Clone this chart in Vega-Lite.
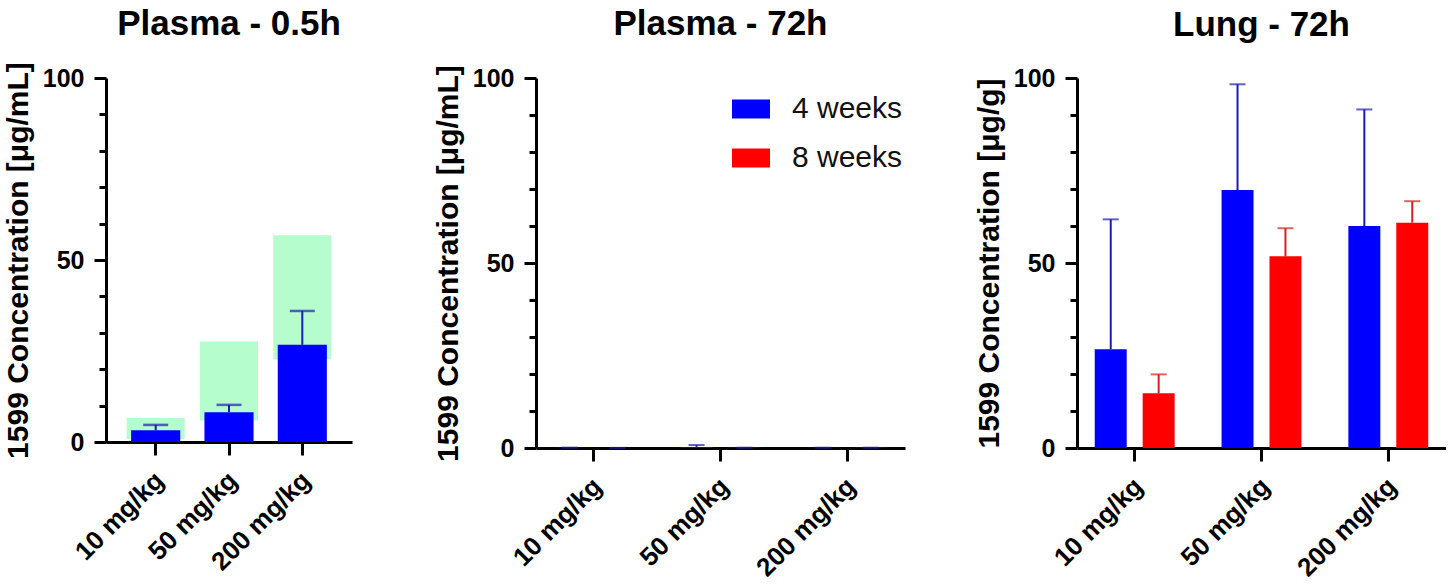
{
  "$schema": "https://vega.github.io/schema/vega-lite/v6.json",
  "background": "white",
  "padding": {"left": 3, "top": 6, "right": 0, "bottom": 0},
  "datasets": {
    "p1": [
      {"dose": "10 mg/kg", "mean": 3.2, "upper": 4.7, "lo": 0.8, "hi": 6.6},
      {"dose": "50 mg/kg", "mean": 8.2, "upper": 10.2, "lo": 5.9, "hi": 27.6},
      {"dose": "200 mg/kg", "mean": 26.7, "upper": 36.0, "lo": 22.7, "hi": 56.8}
    ],
    "p2": [
      {"dose": "10 mg/kg", "group": "4 weeks", "mean": 0.05, "upper": 0.1},
      {"dose": "10 mg/kg", "group": "8 weeks", "mean": 0.02, "upper": 0.03},
      {"dose": "50 mg/kg", "group": "4 weeks", "mean": 0.3, "upper": 0.8},
      {"dose": "50 mg/kg", "group": "8 weeks", "mean": 0.05, "upper": 0.08},
      {"dose": "200 mg/kg", "group": "4 weeks", "mean": 0.05, "upper": 0.08},
      {"dose": "200 mg/kg", "group": "8 weeks", "mean": 0.05, "upper": 0.08}
    ],
    "p3": [
      {"dose": "10 mg/kg", "group": "4 weeks", "mean": 26.7, "upper": 61.8},
      {"dose": "10 mg/kg", "group": "8 weeks", "mean": 14.8, "upper": 19.9},
      {"dose": "50 mg/kg", "group": "4 weeks", "mean": 69.7, "upper": 98.3},
      {"dose": "50 mg/kg", "group": "8 weeks", "mean": 51.8, "upper": 59.4},
      {"dose": "200 mg/kg", "group": "4 weeks", "mean": 60.0, "upper": 91.5},
      {"dose": "200 mg/kg", "group": "8 weeks", "mean": 60.9, "upper": 66.7}
    ]
  },
  "config": {
    "font": "Liberation Sans",
    "view": {"stroke": null},
    "axis": {
      "domainColor": "black",
      "domainWidth": 3,
      "tickColor": "black",
      "tickWidth": 3,
      "labelFont": "Liberation Sans",
      "labelFontWeight": "bold",
      "labelFontSize": 25,
      "labelColor": "black",
      "titleFont": "Liberation Sans",
      "titleFontSize": 30,
      "titleFontWeight": "bold",
      "titleColor": "black",
      "grid": false
    },
    "axisX": {
      "tickSize": 13,
      "labelAngle": -45,
      "labelAlign": "right",
      "labelBaseline": "middle",
      "labelPadding": 21,
      "labelOffset": 4,
      "labelFontSize": 26,
      "title": null
    },
    "axisY": {
      "titlePadding": 9,
      "labelPadding": 10,
      "labelOverlap": false,
      "tickCount": 20
    },
    "legend": {"padding": 0},
    "title": {
      "font": "Liberation Sans",
      "fontSize": 35,
      "fontWeight": "bold",
      "color": "black",
      "anchor": "middle",
      "offset": 23
    }
  },
  "hconcat": [
    {
      "title": {"text": "Plasma - 0.5h", "offset": 20},
      "width": 246,
      "height": 364,
      "data": {"name": "p1"},
      "encoding": {
        "x": {
          "field": "dose", "type": "nominal", "sort": null,
          "scale": {"paddingInner": 0.33, "paddingOuter": 0.343},
          "axis": {"title": null}
        }
      },
      "layer": [
        {
          "mark": {"type": "bar", "color": "#b5fdcc", "size": 58},
          "encoding": {
            "y": {
              "field": "lo", "type": "quantitative",
              "scale": {"domain": [0, 100], "nice": false},
              "axis": {
                "title": "1599 Concentration [μg/mL]",
                "values": [0, 10, 20, 30, 40, 50, 60, 70, 80, 90, 100],
                "labelExpr": "datum.value % 50 === 0 ? datum.label : ''",
                "tickSize": {"condition": {"test": "datum.value % 50 === 0", "value": 12}, "value": 7}
              }
            },
            "y2": {"field": "hi"}
          }
        },
        {
          "mark": {"type": "bar", "color": "#0000ff"},
          "encoding": {"y": {"field": "mean", "type": "quantitative"}}
        },
        {
          "mark": {"type": "rule", "color": "#1c1cb4", "strokeWidth": 2},
          "encoding": {"y": {"field": "mean", "type": "quantitative"}, "y2": {"field": "upper"}}
        },
        {
          "mark": {"type": "tick", "color": "#1c1cb4", "thickness": 2.5, "size": 25},
          "encoding": {"y": {"field": "upper", "type": "quantitative"}}
        }
      ]
    },
    {
      "spacing": 69,
      "hconcat": [
        {
          "title": "Plasma - 72h",
          "width": 369,
          "height": 370,
          "data": {"name": "p2"},
          "encoding": {
            "x": {
              "field": "dose", "type": "nominal", "sort": null,
              "scale": {"paddingInner": 0.37, "paddingOuter": 0.14},
              "axis": {"title": null}
            },
            "xOffset": {"field": "group", "type": "nominal", "scale": {"paddingInner": 0.333, "paddingOuter": 0}}
          },
          "layer": [
            {
              "mark": {"type": "bar"},
              "encoding": {
                "y": {
                  "field": "mean", "type": "quantitative",
                  "scale": {"domain": [0, 100], "nice": false},
                  "axis": {
                    "title": "1599 Concentration [μg/mL]",
                    "values": [0, 10, 20, 30, 40, 50, 60, 70, 80, 90, 100],
                    "labelExpr": "datum.value % 50 === 0 ? datum.label : ''",
                    "tickSize": {"condition": {"test": "datum.value % 50 === 0", "value": 12}, "value": 7}
                  }
                },
                "color": {
                  "field": "group", "type": "nominal",
                  "scale": {"domain": ["4 weeks", "8 weeks"], "range": ["#0000ff", "#ff0000"]},
                  "legend": {
                    "title": null,
                    "orient": "none",
                    "legendX": 196,
                    "legendY": 12,
                    "symbolType": "M-1,-0.5H1V0.5H-1Z",
                    "symbolSize": 1444,
                    "symbolStrokeWidth": 0,
                    "labelFont": "Liberation Sans",
                    "labelFontSize": 30,
                    "labelFontWeight": "normal",
                    "labelColor": "#111111",
                    "labelOffset": 22,
                    "rowPadding": 15
                  }
                }
              }
            },
            {
              "mark": {"type": "rule", "color": "#1c1cb4", "strokeWidth": 2},
              "encoding": {"y": {"field": "mean", "type": "quantitative"}, "y2": {"field": "upper"}}
            },
            {
              "mark": {"type": "tick", "color": "#1c1cb4", "thickness": 2, "size": 16},
              "encoding": {"y": {"field": "upper", "type": "quantitative"}}
            }
          ]
        },
        {
          "title": "Lung - 72h",
          "width": 369,
          "height": 370,
          "data": {"name": "p3"},
          "encoding": {
            "x": {
              "field": "dose", "type": "nominal", "sort": null,
              "scale": {"paddingInner": 0.37, "paddingOuter": 0.14},
              "axis": {"title": null}
            },
            "xOffset": {"field": "group", "type": "nominal", "scale": {"paddingInner": 0.333, "paddingOuter": 0}}
          },
          "layer": [
            {
              "mark": {"type": "bar"},
              "encoding": {
                "y": {
                  "field": "mean", "type": "quantitative",
                  "scale": {"domain": [0, 100], "nice": false},
                  "axis": {
                    "title": "1599 Concentration [μg/g]",
                    "values": [0, 10, 20, 30, 40, 50, 60, 70, 80, 90, 100],
                    "labelExpr": "datum.value % 50 === 0 ? datum.label : ''",
                    "tickSize": {"condition": {"test": "datum.value % 50 === 0", "value": 12}, "value": 7}
                  }
                },
                "color": {
                  "field": "group", "type": "nominal",
                  "scale": {"domain": ["4 weeks", "8 weeks"], "range": ["#0000ff", "#ff0000"]},
                  "legend": null
                }
              }
            },
            {
              "mark": {"type": "rule", "strokeWidth": 2},
              "encoding": {
                "y": {"field": "mean", "type": "quantitative"},
                "y2": {"field": "upper"},
                "color": {"condition": {"test": "datum.group === '4 weeks'", "value": "#1c1cb4"}, "value": "#d42020"}
              }
            },
            {
              "mark": {"type": "tick", "thickness": 2, "size": 16},
              "encoding": {
                "y": {"field": "upper", "type": "quantitative"},
                "color": {"condition": {"test": "datum.group === '4 weeks'", "value": "#1c1cb4"}, "value": "#d42020"}
              }
            }
          ]
        }
      ],
      "resolve": {"legend": {"color": "independent"}, "scale": {"color": "independent"}}
    }
  ],
  "resolve": {"legend": {"color": "independent"}},
  "spacing": 81
}
